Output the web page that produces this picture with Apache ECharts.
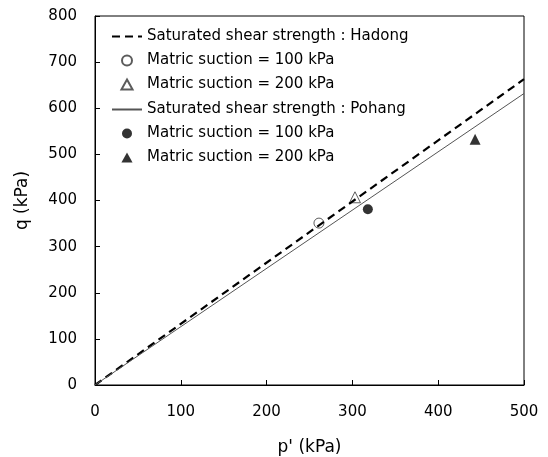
<!DOCTYPE html>
<html>
<head>
<meta charset="utf-8">
<script src="https://cdn.jsdelivr.net/npm/echarts@6/dist/echarts.min.js"></script>
<style>
  html, body { margin: 0; padding: 0; background: #fff; }
  #chart { width: 548px; height: 457px; }
</style>
</head>
<body>
<div id="chart"></div>
<script>
// p'-q plot: saturated strength lines + unsaturated test points

const xTicks = [0, 100, 200, 300, 400, 500];
const yTicks = [0, 100, 200, 300, 400, 500, 600, 700, 800];

// saturated strength envelopes (p', q)
const hadongLine = [[0, 0], [500, 663]];
const pohangLine = [[0, 0], [500, 632]];

// test points
const hadong100 = [[261, 351]];
const hadong200 = [[303, 407]];
const pohang100 = [[318, 381]];
const pohang200 = [[443, 533]];

const names = {
  "H-line": "Saturated shear strength : Hadong",
  "P-line": "Saturated shear strength : Pohang",
  "H-100": "Matric suction = 100 kPa",
  "H-200": "Matric suction = 200 kPa",
  "P-100": "Matric suction = 100 kPa",
  "P-200": "Matric suction = 200 kPa"
};

const font = "DejaVu Sans, sans-serif";
const triPath = "path://M5,0 L10,9 L0,9 Z";
const chart = echarts.init(document.getElementById("chart"), null, { renderer: "canvas" });

const legendBase = {
  orient: "vertical",
  left: 111,
  padding: 0,
  itemWidth: 30,
  itemHeight: 10,
  itemGap: 9,
  textStyle: { fontFamily: font, fontSize: 15, color: "#000" },
  formatter: (n) => names[n]
};

const option = {
  animation: false,
  grid: {
    left: 95, top: 16, right: 24, bottom: 72,
    outerBoundsMode: "none",
    show: true, borderColor: "#000", borderWidth: 1
  },
  legend: [
    Object.assign({}, legendBase, {
      top: 29,
      data: [
        { name: "H-line", itemStyle: { opacity: 0 } },
        { name: "H-100", icon: "circle" },
        { name: "H-200", icon: triPath }
      ]
    }),
    Object.assign({}, legendBase, {
      top: 102,
      data: [
        { name: "P-line", itemStyle: { opacity: 0 } },
        { name: "P-100", icon: "circle" },
        { name: "P-200", icon: triPath }
      ]
    })
  ],
  xAxis: {
    type: "value",
    min: xTicks[0],
    max: xTicks[xTicks.length - 1],
    interval: 100,
    name: "p' (kPa)",
    nameLocation: "middle",
    nameGap: 54,
    nameTextStyle: { fontFamily: font, fontSize: 17, color: "#000" },
    axisLine: { lineStyle: { color: "#000", width: 1 } },
    axisTick: { inside: true, length: 5, lineStyle: { color: "#000" } },
    axisLabel: { fontFamily: font, fontSize: 15, color: "#000", margin: 20 },
    splitLine: { show: false }
  },
  yAxis: {
    type: "value",
    min: yTicks[0],
    max: yTicks[yTicks.length - 1],
    interval: 100,
    name: "q (kPa)",
    nameLocation: "middle",
    nameGap: 64,
    nameTextStyle: { fontFamily: font, fontSize: 17, color: "#000" },
    axisLine: { show: true, lineStyle: { color: "#000", width: 1 } },
    axisTick: { show: true, inside: true, length: 5, lineStyle: { color: "#000" } },
    axisLabel: { fontFamily: font, fontSize: 15, color: "#000", margin: 18 },
    splitLine: { show: false }
  },
  series: [
    {
      name: "H-line", type: "line", data: hadongLine, symbol: "none",
      lineStyle: { color: "#000", width: 2.2, type: [8, 5] }, itemStyle: { color: "#000" }
    },
    {
      name: "P-line", type: "line", data: pohangLine, symbol: "none",
      lineStyle: { color: "#555", width: 1 }, itemStyle: { color: "#555" }
    },
    {
      name: "H-100", type: "scatter", data: hadong100, symbol: "circle", symbolSize: 10,
      itemStyle: { color: "#fff", borderColor: "#333", borderWidth: 1 }
    },
    {
      name: "H-200", type: "scatter", data: hadong200, symbol: "triangle", symbolSize: 11,
      itemStyle: { color: "#fff", borderColor: "#333", borderWidth: 1 }
    },
    {
      name: "P-100", type: "scatter", data: pohang100, symbol: "circle", symbolSize: 10,
      itemStyle: { color: "#000" }
    },
    {
      name: "P-200", type: "scatter", data: pohang200, symbol: "triangle", symbolSize: 11,
      itemStyle: { color: "#000" }
    }
  ]
};

chart.setOption(option);
</script>
</body>
</html>
